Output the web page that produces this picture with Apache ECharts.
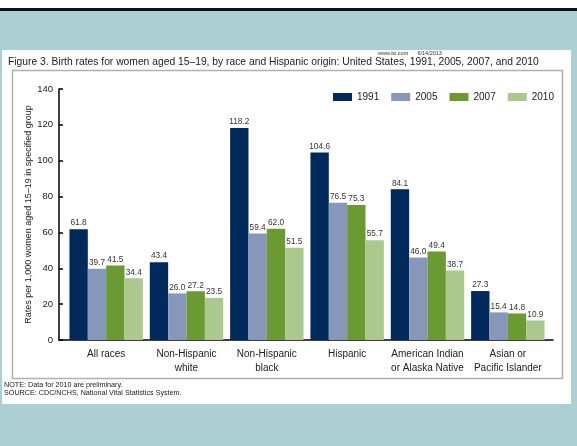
<!DOCTYPE html>
<html><head><meta charset="utf-8">
<script src="https://cdn.jsdelivr.net/npm/echarts@6/dist/echarts.min.js"></script>
<style>html,body{margin:0;padding:0;background:#abcfd2;}#c{width:577px;height:446px;}</style>
</head><body><div id="c"></div>
<script>
const categories = ['All races', 'Non-Hispanic\nwhite', 'Non-Hispanic\nblack', 'Hispanic', 'American Indian\nor Alaska Native', 'Asian or\nPacific Islander'];
const seriesNames = ['1991', '2005', '2007', '2010'];
const values1991 = [61.8, 43.4, 118.2, 104.6, 84.1, 27.3];
const values2005 = [39.7, 26.0, 59.4, 76.5, 46.0, 15.4];
const values2007 = [41.5, 27.2, 62.0, 75.3, 49.4, 14.8];
const values2010 = [34.4, 23.5, 51.5, 55.7, 38.7, 10.9];
const yTicks = [0, 20, 40, 60, 80, 100, 120, 140];
const colors = ['#002a5c', '#8797ba', '#6b9a32', '#abc98c'];
const allValues = [values1991, values2005, values2007, values2010];
const FONT = 'Liberation Sans, Arial, sans-serif';

const chart = echarts.init(document.getElementById('c'), null, {renderer: 'canvas'});
chart.setOption({
  animation: false,
  backgroundColor: '#abcfd2',
  textStyle: {fontFamily: FONT},
  graphic: [
    {type: 'rect', shape: {x: 0, y: 0, width: 577, height: 8}, style: {fill: '#ffffff'}, z: -10},
    {type: 'rect', shape: {x: 0, y: 8, width: 577, height: 3}, style: {fill: '#111111'}, z: -10},
    {type: 'rect', shape: {x: 2, y: 50, width: 569, height: 354}, style: {fill: '#ffffff'}, z: -10},
    {type: 'rect', shape: {x: 12.5, y: 70.5, width: 550, height: 308}, style: {fill: '#ffffff', stroke: '#b0b0b0', lineWidth: 1.5}, z: -9},
    {type: 'text', left: 378, top: 50, style: {text: 'www.isi.com      6/14/2013', font: '5.5px ' + FONT, fill: '#333'}},
    {type: 'text', left: 8, top: 57, style: {text: 'Figure 3. Birth rates for women aged 15\u201319, by race and Hispanic origin: United States, 1991, 2005, 2007, and 2010', font: '10.3px ' + FONT, fill: '#222'}},
    {type: 'text', left: 4, top: 382, style: {text: 'NOTE: Data for 2010 are preliminary.', font: '7.2px ' + FONT, fill: '#222'}},
    {type: 'text', left: 4, top: 390, style: {text: 'SOURCE: CDC/NCHS, National Vital Statistics System.', font: '7.2px ' + FONT, fill: '#222'}}
  ],
  legend: {
    left: 328, top: 87,
    itemWidth: 19, itemHeight: 8, itemGap: 12,
    icon: 'rect',
    textStyle: {fontSize: 10, color: '#222', fontFamily: FONT},
    data: seriesNames
  },
  grid: [
    {left: 59, right: 24, top: 89, bottom: 106},
    {left: 66, right: 29, top: 89, bottom: 106}
  ],
  xAxis: [
    {
      type: 'category', gridIndex: 0, data: categories,
      axisLine: {lineStyle: {color: '#000', width: 1.5}},
      axisTick: {show: false}, axisLabel: {show: false}
    },
    {
      type: 'category', gridIndex: 1, data: categories,
      axisLine: {show: false}, axisTick: {show: false},
      axisLabel: {fontSize: 10, color: '#222', lineHeight: 14, margin: 7, interval: 0, fontFamily: FONT}
    }
  ],
  yAxis: [
    {
      type: 'value', gridIndex: 0, min: 0, max: 140, interval: 20,
      name: 'Rates per 1,000 women aged 15\u201319 in specified group',
      nameLocation: 'middle', nameGap: 26, nameRotate: 90, nameMoveOverlap: false,
      nameTextStyle: {fontSize: 9, color: '#222', fontFamily: FONT},
      axisLine: {show: true, lineStyle: {color: '#000', width: 1.5}},
      axisTick: {show: true, inside: true, length: 4, lineStyle: {color: '#000', width: 1.5}},
      axisLabel: {fontSize: 9.5, color: '#222', margin: 6, fontFamily: FONT,
        formatter: v => yTicks.includes(v) ? String(v) : ''},
      splitLine: {show: false}
    },
    {
      type: 'value', gridIndex: 1, min: 0, max: 140, interval: 20,
      axisLine: {show: false}, axisTick: {show: false}, axisLabel: {show: false}, splitLine: {show: false}
    }
  ],
  series: seriesNames.map((n, i) => ({
    name: n, type: 'bar', xAxisIndex: 1, yAxisIndex: 1,
    data: allValues[i],
    barGap: '0%', barCategoryGap: '8.6%',
    itemStyle: {color: colors[i]},
    label: {show: true, position: 'top', distance: 2, fontSize: 8.3, color: '#333', fontFamily: FONT,
      formatter: p => p.value.toFixed(1)}
  }))
});
</script></body></html>
